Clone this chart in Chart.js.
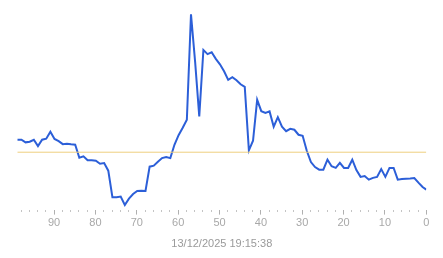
<!DOCTYPE html>
<html>
<head>
<meta charset="utf-8">
<style>
  html, body { margin: 0; padding: 0; background: #ffffff; }
  #wrap { width: 443px; height: 258px; position: relative; }
</style>
<script src="https://cdn.jsdelivr.net/npm/chart.js@4/dist/chart.umd.min.js"></script>
</head>
<body>
<div id="wrap"><canvas id="c" width="443" height="258"></canvas></div>
<script>
// Minutes ago (x) for every sample
const minutesAgo = [
  98.9, 97.9, 96.9, 95.9, 94.9, 93.9, 92.9, 91.9, 90.9, 89.9,
  88.9, 87.9, 86.9, 85.9, 84.9, 83.9, 82.9, 81.9, 80.9, 79.9,
  78.9, 77.9, 76.9, 75.9, 74.9, 73.9, 72.9, 71.9, 70.9, 69.9,
  68.9, 67.9, 66.9, 65.9, 64.9, 63.9, 62.9, 61.9, 60.9, 59.9,
  58.9, 57.9, 56.9, 55.9, 54.9, 53.9, 52.9, 51.9, 50.9, 49.9,
  48.9, 47.9, 46.9, 45.9, 44.9, 43.9, 42.9, 41.9, 40.9, 39.9,
  38.9, 37.9, 36.9, 35.9, 34.9, 33.9, 32.9, 31.9, 30.9, 29.9,
  28.9, 27.9, 26.9, 25.9, 24.9, 23.9, 22.9, 21.9, 20.9, 19.9,
  18.9, 17.9, 16.9, 15.9, 14.9, 13.9, 12.9, 11.9, 10.9, 9.9,
  8.9, 7.9, 6.9, 5.9, 4.9, 3.9, 2.9, 1.9, 0.9, 0
];
// Series values
const seriesValues = [
  35, 35, 33.7, 34, 35, 31.8, 35, 35.5, 39, 35.4,
  34.3, 32.8, 33, 32.7, 32.5, 26, 26.7, 24.7, 24.7, 24.5,
  23, 23.3, 19.5, 6.2, 6.2, 6.5, 2.3, 5.5, 7.8, 9.3,
  9.5, 9.3, 21.5, 22, 24, 25.8, 26.3, 25.8, 32.5, 37.3,
  41, 45, 97.8, 74, 46.7, 80, 77.9, 78.8, 75.5, 72.8,
  69.3, 65, 66.3, 64.8, 62.8, 61.5, 29.7, 34.5, 55, 49.3,
  48.4, 49.2, 41.5, 46.3, 41.5, 39.3, 40.5, 40, 37.5, 37,
  29.5, 23.8, 21.3, 20, 20, 25, 21.7, 20.9, 23.4, 20.9,
  20.9, 25, 19.8, 16.4, 16.8, 15, 15.9, 16.4, 20.3, 16.4,
  20.9, 20.9, 15, 15.3, 15.5, 15.6, 15.8, 13.5, 11.3, 10
];
// Reference level (horizontal line)
const referenceLevel = [28.75];
// Axis settings / labels
const xRange = [0, 98.9];
const yRange = [0, 100];
const axisTitle = '13/12/2025 19:15:38';

const mainPoints = minutesAgo.map((x, i) => ({ x: x, y: seriesValues[i] }));
const refPoints = [
  { x: xRange[1], y: referenceLevel[0] },
  { x: xRange[0], y: referenceLevel[0] }
];

const isMajor = (v) => Math.abs(v % 10) < 1e-9;

new Chart(document.getElementById('c'), {
  type: 'line',
  data: {
    datasets: [
      {
        data: refPoints,
        borderColor: '#efcf7e',
        borderWidth: 1,
        pointRadius: 0,
        tension: 0,
        fill: false
      },
      {
        data: mainPoints,
        borderColor: '#2c5fd8',
        borderWidth: 2,
        pointRadius: 0,
        tension: 0,
        fill: false
      }
    ]
  },
  options: {
    responsive: false,
    animation: false,
    devicePixelRatio: 1,
    layout: { padding: { left: 17.3, right: 16.7, top: 10, bottom: 3 } },
    plugins: {
      legend: { display: false },
      tooltip: { enabled: false }
    },
    scales: {
      x: {
        type: 'linear',
        reverse: true,
        min: xRange[0],
        max: xRange[1],
        border: { display: false },
        grid: {
          drawOnChartArea: false,
          drawTicks: true,
          tickLength: 5,
          tickColor: (ctx) => (ctx.tick && isMajor(ctx.tick.value)) ? '#b0b0b0' : '#c4c4c4',
          tickBorderDash: (ctx) => (ctx.tick && isMajor(ctx.tick.value)) ? [] : [2, 20],
          tickWidth: 1
        },
        afterBuildTicks: (scale) => {
          scale.ticks = scale.ticks.filter(t => Math.abs(t.value % 2) < 1e-9 && t.value <= xRange[1]);
        },
        ticks: {
          stepSize: 2,
          maxTicksLimit: 60,
          includeBounds: false,
          autoSkip: false,
          maxRotation: 0,
          padding: 2,
          color: '#a8a8a8',
          font: { family: 'Arial, "Liberation Sans", sans-serif', size: 11 },
          callback: (v) => isMajor(v) ? String(v) : ''
        },
        title: {
          display: true,
          text: axisTitle,
          color: '#9a9a9a',
          font: { family: 'Arial, "Liberation Sans", sans-serif', size: 11 },
          padding: { top: 6, bottom: 4 }
        }
      },
      y: {
        display: false,
        min: yRange[0],
        max: yRange[1]
      }
    }
  }
});
</script>
</body>
</html>
